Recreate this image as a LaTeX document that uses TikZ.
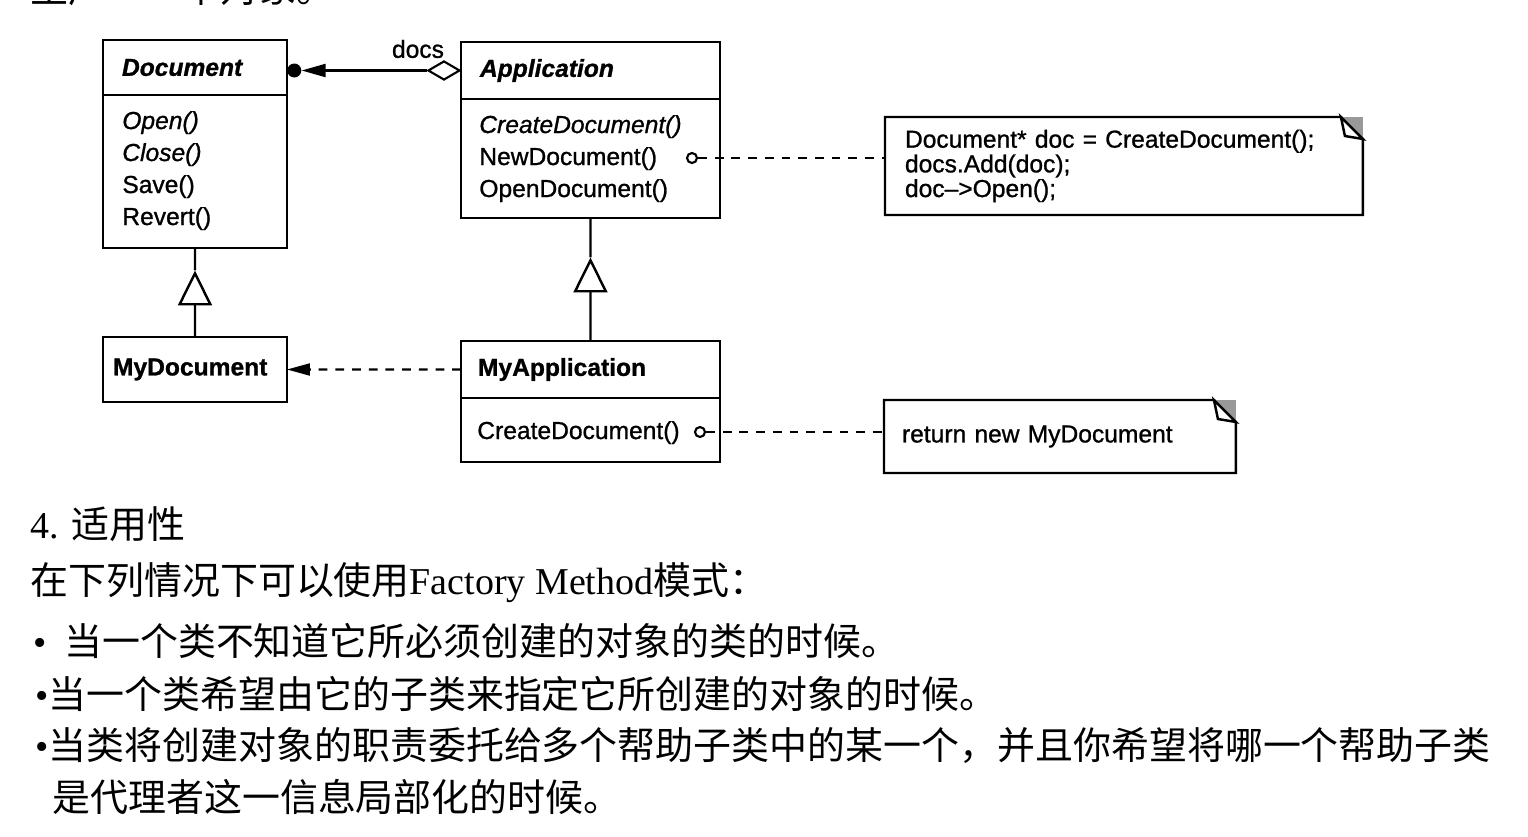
\documentclass[tikz,border=0pt]{standalone}
\usepackage{fontspec}
\setmainfont{Liberation Serif}
\newfontfamily\umlfont[FakeBold=1]{Liberation Sans}
\newfontfamily\cjk{Noto Sans CJK SC}
\usetikzlibrary{positioning,arrows.meta,shapes.geometric,calc}
\lineskiplimit=-20pt

\begin{document}
\begin{tikzpicture}[x=0.02cm, y=-0.02cm,
    classhead/.style ={rectangle, draw, line width=1.4pt, outer sep=0pt, anchor=north west,
                       inner xsep=0.38cm, align=left, font=\umlfont\fontsize{14}{17}\selectfont\bfseries},
    abstracthead/.style ={classhead, font=\umlfont\fontsize{14}{17}\selectfont\bfseries\itshape},
    classbody/.style ={rectangle, draw, line width=1.4pt, outer sep=0pt},
    method/.style ={anchor=base west, inner sep=0pt, font=\umlfont\fontsize{14}{17}\selectfont},
    absmethod/.style ={method, font=\umlfont\fontsize{14}{17}\selectfont\itshape},
    notebox/.style ={rectangle, anchor=north west, outer sep=0pt, align=left,
                     font=\umlfont\fontsize{14}{12.4}\selectfont},
    noteline/.style ={line width=1.4pt, line join=miter},
    port/.style ={circle, draw, line width=1.2pt, fill=white, minimum size=0.2cm, inner sep=0pt},
    link/.style ={line width=1.2pt, dash pattern=on 5pt off 4.5pt},
    gen/.style ={line width=1.4pt, -{Triangle[open, length=0.7cm, width=0.68cm]}},
    cjkline/.style ={anchor=base west, inner sep=0pt, font=\fontsize{21.6}{25}\selectfont}]
   \useasboundingbox (0,0) rectangle (1528,836);

   % classes
   \node[abstracthead, minimum width=3.68cm, minimum height=1.1cm, text width=2.92cm] (docH) at (103,40) {Document};
   \node[classbody, minimum width=3.68cm, minimum height=3.06cm, below=0pt of docH] (docB) {};
   \node[absmethod] (open) at (122,129) {Open()};
   \node[absmethod] (close) at (122,161) {Close()};
   \node[method] (save) at (122,193) {Save()};
   \node[method] (revert) at (122,225) {Revert()};

   \node[abstracthead, minimum width=5.18cm, minimum height=1.14cm, text width=4.42cm] (appH) at (461,42) {Application};
   \node[classbody, minimum width=5.18cm, minimum height=2.38cm, below=0pt of appH] (appB) {};
   \node[absmethod] (createabs) at (479,133) {CreateDocument()};
   \node[method] (newdoc) at (479,165) {NewDocument()};
   \node[method] (opendoc) at (479,197) {OpenDocument()};

   \node[classhead, minimum width=3.68cm, minimum height=1.3cm, inner xsep=0.2cm, text width=3.28cm] (mydoc) at (103,337) {MyDocument};

   \node[classhead, minimum width=5.18cm, minimum height=1.14cm, inner xsep=0.34cm, text width=4.5cm] (myappH) at (461,341) {MyApplication};
   \node[classbody, minimum width=5.18cm, minimum height=1.28cm, below=0pt of myappH] (myappB) {};
   \node[method] (create) at (477,439) {CreateDocument()};

   % notes
   \node[notebox, minimum width=9.56cm, minimum height=1.96cm, inner xsep=0.4cm, text width=8.76cm] (note1) at (885,117)
        {Document* doc = CreateDocument();\\docs.Add(doc);\\doc–>Open();};
   \draw[noteline] (note1.north west) -- ([xshift=-0.44cm]note1.north east) -- ([yshift=-0.44cm]note1.north east)
        -- (note1.south east) -- (note1.south west) -- cycle;
   \fill[gray!80] ([xshift=-0.44cm]note1.north east) -- (note1.north east) -- ([yshift=-0.44cm]note1.north east) -- cycle;
   \draw[noteline, fill=white] ([xshift=-0.44cm]note1.north east) -- ([xshift=-0.36cm, yshift=-0.38cm]note1.north east)
        -- ([yshift=-0.44cm]note1.north east) -- cycle;

   \node[notebox, minimum width=7.04cm, minimum height=1.46cm, inner xsep=0.36cm, text width=6.32cm] (note2) at (884,400)
        {return new MyDocument};
   \draw[noteline] (note2.north west) -- ([xshift=-0.44cm]note2.north east) -- ([yshift=-0.44cm]note2.north east)
        -- (note2.south east) -- (note2.south west) -- cycle;
   \fill[gray!80] ([xshift=-0.44cm]note2.north east) -- (note2.north east) -- ([yshift=-0.44cm]note2.north east) -- cycle;
   \draw[noteline, fill=white] ([xshift=-0.44cm]note2.north east) -- ([xshift=-0.36cm, yshift=-0.38cm]note2.north east)
        -- ([yshift=-0.44cm]note2.north east) -- cycle;

   % association docs
   \node[diamond, draw, line width=1.2pt, fill=white, minimum width=0.64cm, minimum height=0.38cm, inner sep=0pt, anchor=east] (agg) at (appH.west) {};
   \node[circle, fill, minimum size=0.28cm, inner sep=0pt, anchor=west] (own) at (docH.east |- agg) {};
   \draw[line width=1.2pt, -{Triangle[length=0.48cm, width=0.26cm]}] (agg) -- (own);
   \node[font=\umlfont\fontsize{14}{17}\selectfont, inner sep=0pt] (docs) at (418,49) {docs};

   % dependency
   \draw[link, -{Triangle[length=0.46cm, width=0.24cm]}] (myappH.west) -- (mydoc.east);

   % inheritance
   \coordinate (g1) at ($(docB.south)!0.5!(mydoc.north)+(0,-22)$);
   \draw[gen] (mydoc.north) -- (g1);
   \draw[line width=1.4pt] (g1) -- (docB.south);
   \coordinate (g2) at ($(appB.south)!0.5!(myappH.north)+(0,-22)$);
   \draw[gen] (myappH.north) -- (g2);
   \draw[line width=1.4pt] (g2) -- (appB.south);

   % links to notes
   \node[port] (p1) at (692,158) {};
   \draw[link] (p1) -- (p1 -| note1.west);
   \node[port] (p2) at (700,432) {};
   \draw[link] (p2) -- (p2 -| note2.west);

   % text below
   \node[cjkline] (t0) at (30,2) {\cjk 生产”一个对象。};
   \node[cjkline] (h4) at (30,538) {4. {\cjk 适用性}};
   \node[cjkline] (use) at (30,594) {{\cjk 在下列情况下可以使用}Factory Method{\cjk 模式：}};
   \node[cjkline] (b1) at (33,655) {•\hspace{10pt}{\cjk 当一个类不知道它所必须创建的对象的类的时候。}};
   \node[cjkline] (b2) at (35,708) {•{\cjk 当一个类希望由它的子类来指定它所创建的对象的时候。}};
   \node[cjkline] (b3) at (35,759) {•{\cjk 当类将创建对象的职责委托给多个帮助子类中的某一个，并且你希望将哪一个帮助子类}};
   \node[cjkline] (b4) at (52,811) {\cjk 是代理者这一信息局部化的时候。};
\end{tikzpicture}
\end{document}
